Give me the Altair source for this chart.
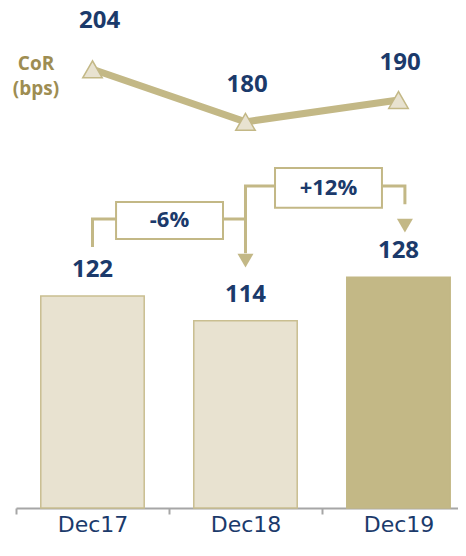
import json
import altair as alt
import pandas as pd

# ---------------- data ----------------
categories = ["Dec17", "Dec18", "Dec19"]
loan_values = [122, 114, 128]           # bars
cor_bps = [204, 180, 190]               # CoR line (bps)
highlight = [False, False, True]
change_labels = ["-6%", "+12%"]

# ---------------- style ----------------
NAVY = "#1B3A6B"
GOLD = "#C3B886"
LIGHT = "#E8E2D0"
LIGHT_EDGE = "#C9BE90"
COR_TXT = "#9E8D52"
AXIS_GREY = "#A6A6A6"
FONT = "Open Sans"
AXIS_FONT = "DejaVu Sans"

idx = list(range(len(categories)))
bars_df = pd.DataFrame({
    "idx": idx, "cat": categories, "value": loan_values,
    "kind": ["focus" if h else "base" for h in highlight],
})
line_df = pd.DataFrame({"idx": idx, "cat": categories, "value": cor_bps})

# bar axis is truncated (baseline not at zero), as in the original slide
BAR_BASE = 53.6
BAR_TOP = 214.9

# annotation layout (callout brackets, in bar-value units)
bracket_df = pd.DataFrame({
    "grp": [0, 0, 0, 0, 1, 1, 1, 1],
    "ord": [0, 1, 2, 3, 0, 1, 2, 3],
    "x": [0, 0, 1, 1, 1, 1, 2.042, 2.042],
    "y": [137.8, 146.8, 146.8, 135.8, 146.8, 157.5, 157.5, 151.6],
})
box_df = pd.DataFrame({
    "label": change_labels,
    "x0": [0.154, 1.193], "x1": [0.853, 1.892],
    "y0": [140.4, 150.5], "y1": [152.3, 163.3],
})
head_df = pd.DataFrame({"x": [1, 2.042], "y": [133.4, 144.7]})

xscale = alt.Scale(domain=[-0.5, 2.389], nice=False, zero=False, padding=0)
ybar = alt.Scale(domain=[BAR_BASE, BAR_TOP], nice=False, zero=False, padding=0)
yline = alt.Scale(domain=[3.66, 232], nice=False, zero=False, padding=0)

label_expr = json.dumps(categories) + "[round(datum.value + 0.5)]"
x_axis = alt.Axis(
    values=[-0.5, 0.5, 1.5], labelExpr=label_expr, labelOffset=76.5,
    labelFlush=False, labelOverlap=False, grid=False,
    domainColor=AXIS_GREY, domainWidth=2, tickColor=AXIS_GREY, tickWidth=2,
    tickSize=6, labelPadding=0, labelFont=AXIS_FONT, labelFontSize=22,
    labelColor=NAVY, labelBaseline="top",
)

bars = alt.Chart(bars_df).transform_calculate(
    x0="datum.idx - 0.338", x1="datum.idx + 0.338"
).mark_bar(strokeWidth=1.5).encode(
    x=alt.X("x0:Q", scale=xscale, axis=x_axis, title=None),
    x2="x1:Q",
    y=alt.Y("value:Q", scale=ybar, axis=None),
    y2=alt.datum(BAR_BASE),
    fill=alt.Fill("kind:N", scale=alt.Scale(domain=["base", "focus"], range=[LIGHT, GOLD]), legend=None),
    stroke=alt.Stroke("kind:N", scale=alt.Scale(domain=["base", "focus"], range=[LIGHT_EDGE, GOLD]), legend=None),
)

bar_labels = alt.Chart(bars_df).mark_text(
    font=FONT, fontSize=24, fontWeight="bold", color=NAVY, baseline="middle", dy=-26
).encode(
    x=alt.X("idx:Q", scale=xscale, title=None),
    y=alt.Y("value:Q", scale=ybar, axis=None),
    text="value:Q",
)

brackets = alt.Chart(bracket_df).mark_line(
    color=GOLD, strokeWidth=3, strokeJoin="miter", strokeCap="butt"
).encode(
    x=alt.X("x:Q", scale=xscale, title=None),
    y=alt.Y("y:Q", scale=ybar, axis=None),
    detail="grp:N",
    order="ord:Q",
)

boxes = alt.Chart(box_df).mark_rect(fill="white", stroke=GOLD, strokeWidth=2).encode(
    x=alt.X("x0:Q", scale=xscale, title=None), x2="x1:Q",
    y=alt.Y("y0:Q", scale=ybar, axis=None), y2="y1:Q",
)

box_text = alt.Chart(box_df).transform_calculate(
    xm="(datum.x0 + datum.x1) / 2", ym="(datum.y0 + datum.y1) / 2"
).mark_text(font=FONT, fontSize=22, fontWeight="bold", color=NAVY, baseline="middle").encode(
    x=alt.X("xm:Q", scale=xscale, title=None),
    y=alt.Y("ym:Q", scale=ybar, axis=None),
    text="label:N",
)

heads = alt.Chart(head_df).mark_point(
    shape="triangle-down", filled=True, color=GOLD, size=256, opacity=1
).encode(
    x=alt.X("x:Q", scale=xscale, title=None),
    y=alt.Y("y:Q", scale=ybar, axis=None),
)

bar_group = alt.layer(bars, bar_labels, brackets, boxes, box_text, heads)

line = alt.Chart(line_df).mark_line(color=GOLD, strokeWidth=7).encode(
    x=alt.X("idx:Q", scale=xscale, title=None),
    y=alt.Y("value:Q", scale=yline, axis=None),
)
tri = alt.Chart(line_df).mark_point(
    shape="triangle-up", filled=True, fill=LIGHT, stroke=GOLD, strokeWidth=1.5,
    size=380, opacity=1
).encode(
    x=alt.X("idx:Q", scale=xscale, title=None),
    y=alt.Y("value:Q", scale=yline, axis=None),
)
line_labels = alt.Chart(line_df).transform_calculate(
    lx="datum.idx + (datum.idx == 0 ? 0.046 : 0.01)",
    ly="datum.value + (datum.idx == 0 ? 22 : 17)",
).mark_text(font=FONT, fontSize=24, fontWeight="bold", color=NAVY, baseline="middle").encode(
    x=alt.X("lx:Q", scale=xscale, title=None),
    y=alt.Y("ly:Q", scale=yline, axis=None),
    text="value:Q",
)
cor_df = pd.DataFrame({"x": [-0.369], "y": [206.4], "t": ["CoR\n(bps)"]})
cor_text = alt.Chart(cor_df).mark_text(
    font=FONT, fontSize=19, fontWeight="bold", color=COR_TXT, baseline="middle",
    lineBreak="\n", lineHeight=25
).encode(
    x=alt.X("x:Q", scale=xscale, title=None),
    y=alt.Y("y:Q", scale=yline, axis=None),
    text="t:N",
)
line_group = alt.layer(line, tri, line_labels, cor_text)

chart = alt.layer(bar_group, line_group).resolve_scale(y="independent").properties(
    width=442, height=500,
    autosize=alt.AutoSizeParams(type="none"),
    padding={"left": 8, "top": 0, "right": 0, "bottom": 34},
    background="white",
).configure_view(stroke=None)

chart.save("out.html", embed_options={"renderer": "svg", "actions": False})
